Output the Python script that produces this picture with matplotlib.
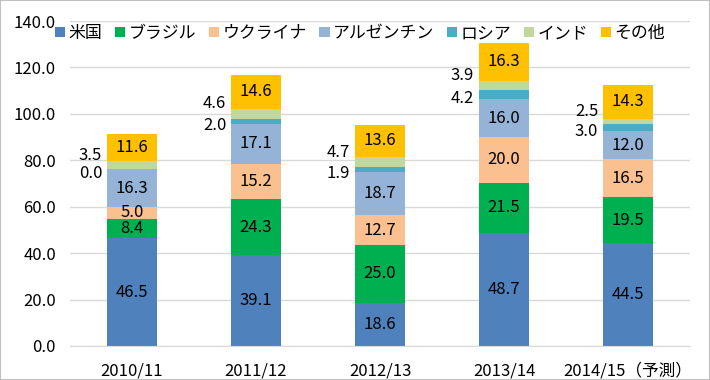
import matplotlib
matplotlib.use("Agg")
import matplotlib.pyplot as plt
import numpy as np
from matplotlib.patches import Rectangle

plt.rcParams['font.family'] = ['Noto Sans CJK JP', 'DejaVu Sans']

categories = ["2010/11", "2011/12", "2012/13", "2013/14", "2014/15（予測）"]
series_names = ["米国", "ブラジル", "ウクライナ", "アルゼンチン", "ロシア", "インド", "その他"]
us = [46.5, 39.1, 18.6, 48.7, 44.5]
brazil = [8.4, 24.3, 25.0, 21.5, 19.5]
ukraine = [5.0, 15.2, 12.7, 20.0, 16.5]
argentina = [16.3, 17.1, 18.7, 16.0, 12.0]
russia = [0.0, 2.0, 1.9, 4.2, 3.0]
india = [3.5, 4.6, 4.7, 3.9, 2.5]
other = [11.6, 14.6, 13.6, 16.3, 14.3]
yticks = [0, 20, 40, 60, 80, 100, 120, 140]

data = [us, brazil, ukraine, argentina, russia, india, other]
colors = ["#4F81BD", "#00B050", "#FAC090", "#95B3D7", "#4BACC6", "#C3D69B", "#FFC000"]

fig = plt.figure(figsize=(7.1, 3.8), dpi=100)
fig.patches.append(Rectangle((0, 0), 1, 1, transform=fig.transFigure, fill=False,
                             edgecolor="#BFBFBF", linewidth=1.5))
ax = fig.add_axes([70/710, 34/380, 620/710, 325/380])

x = np.arange(len(categories))
width = 0.4
bottom = np.zeros(len(categories))
for i, (name, vals, c) in enumerate(zip(series_names, data, colors)):
    vals = np.array(vals)
    ax.bar(x, vals, width, bottom=bottom, color=c, label=name, zorder=2)
    for j in range(len(x)):
        yc = bottom[j] + vals[j] / 2
        txt = f"{vals[j]:.1f}"
        if name in ("ロシア", "インド"):
            dy = 10 if name == "インド" else -4
            ax.annotate(txt, (x[j] - width / 2, yc), xytext=(-5, dy),
                        textcoords="offset pixels", ha="right", va="center",
                        fontsize=12, color="#000000")
        else:
            ax.text(x[j], yc, txt, ha="center", va="center", fontsize=12, color="#000000", zorder=3)
    bottom += vals

ax.set_xlim(-0.5, len(categories) - 0.5)
ax.set_ylim(0, 140)
ax.set_yticks(yticks)
ax.set_yticklabels([f"{v:.1f}" for v in yticks], fontsize=12)
ax.set_xticks(x)
ax.set_xticklabels(categories, fontsize=12)
ax.tick_params(axis='both', length=0)
ax.tick_params(axis='y', pad=10)
ax.tick_params(axis='x', pad=12)
ax.grid(axis='y', color="#D9D9D9", linewidth=1, zorder=0)
for s in ["top", "right", "left"]:
    ax.spines[s].set_visible(False)
ax.spines["bottom"].set_color("#D9D9D9")

fig.legend(loc="center left", bbox_to_anchor=(55/710, 1 - 33/380), ncol=7, frameon=False,
           fontsize=12.2, handlelength=0.6, handleheight=0.6, handletextpad=0.2,
           columnspacing=0.75, borderaxespad=0, borderpad=0)

fig.savefig("out.png", dpi=100)
